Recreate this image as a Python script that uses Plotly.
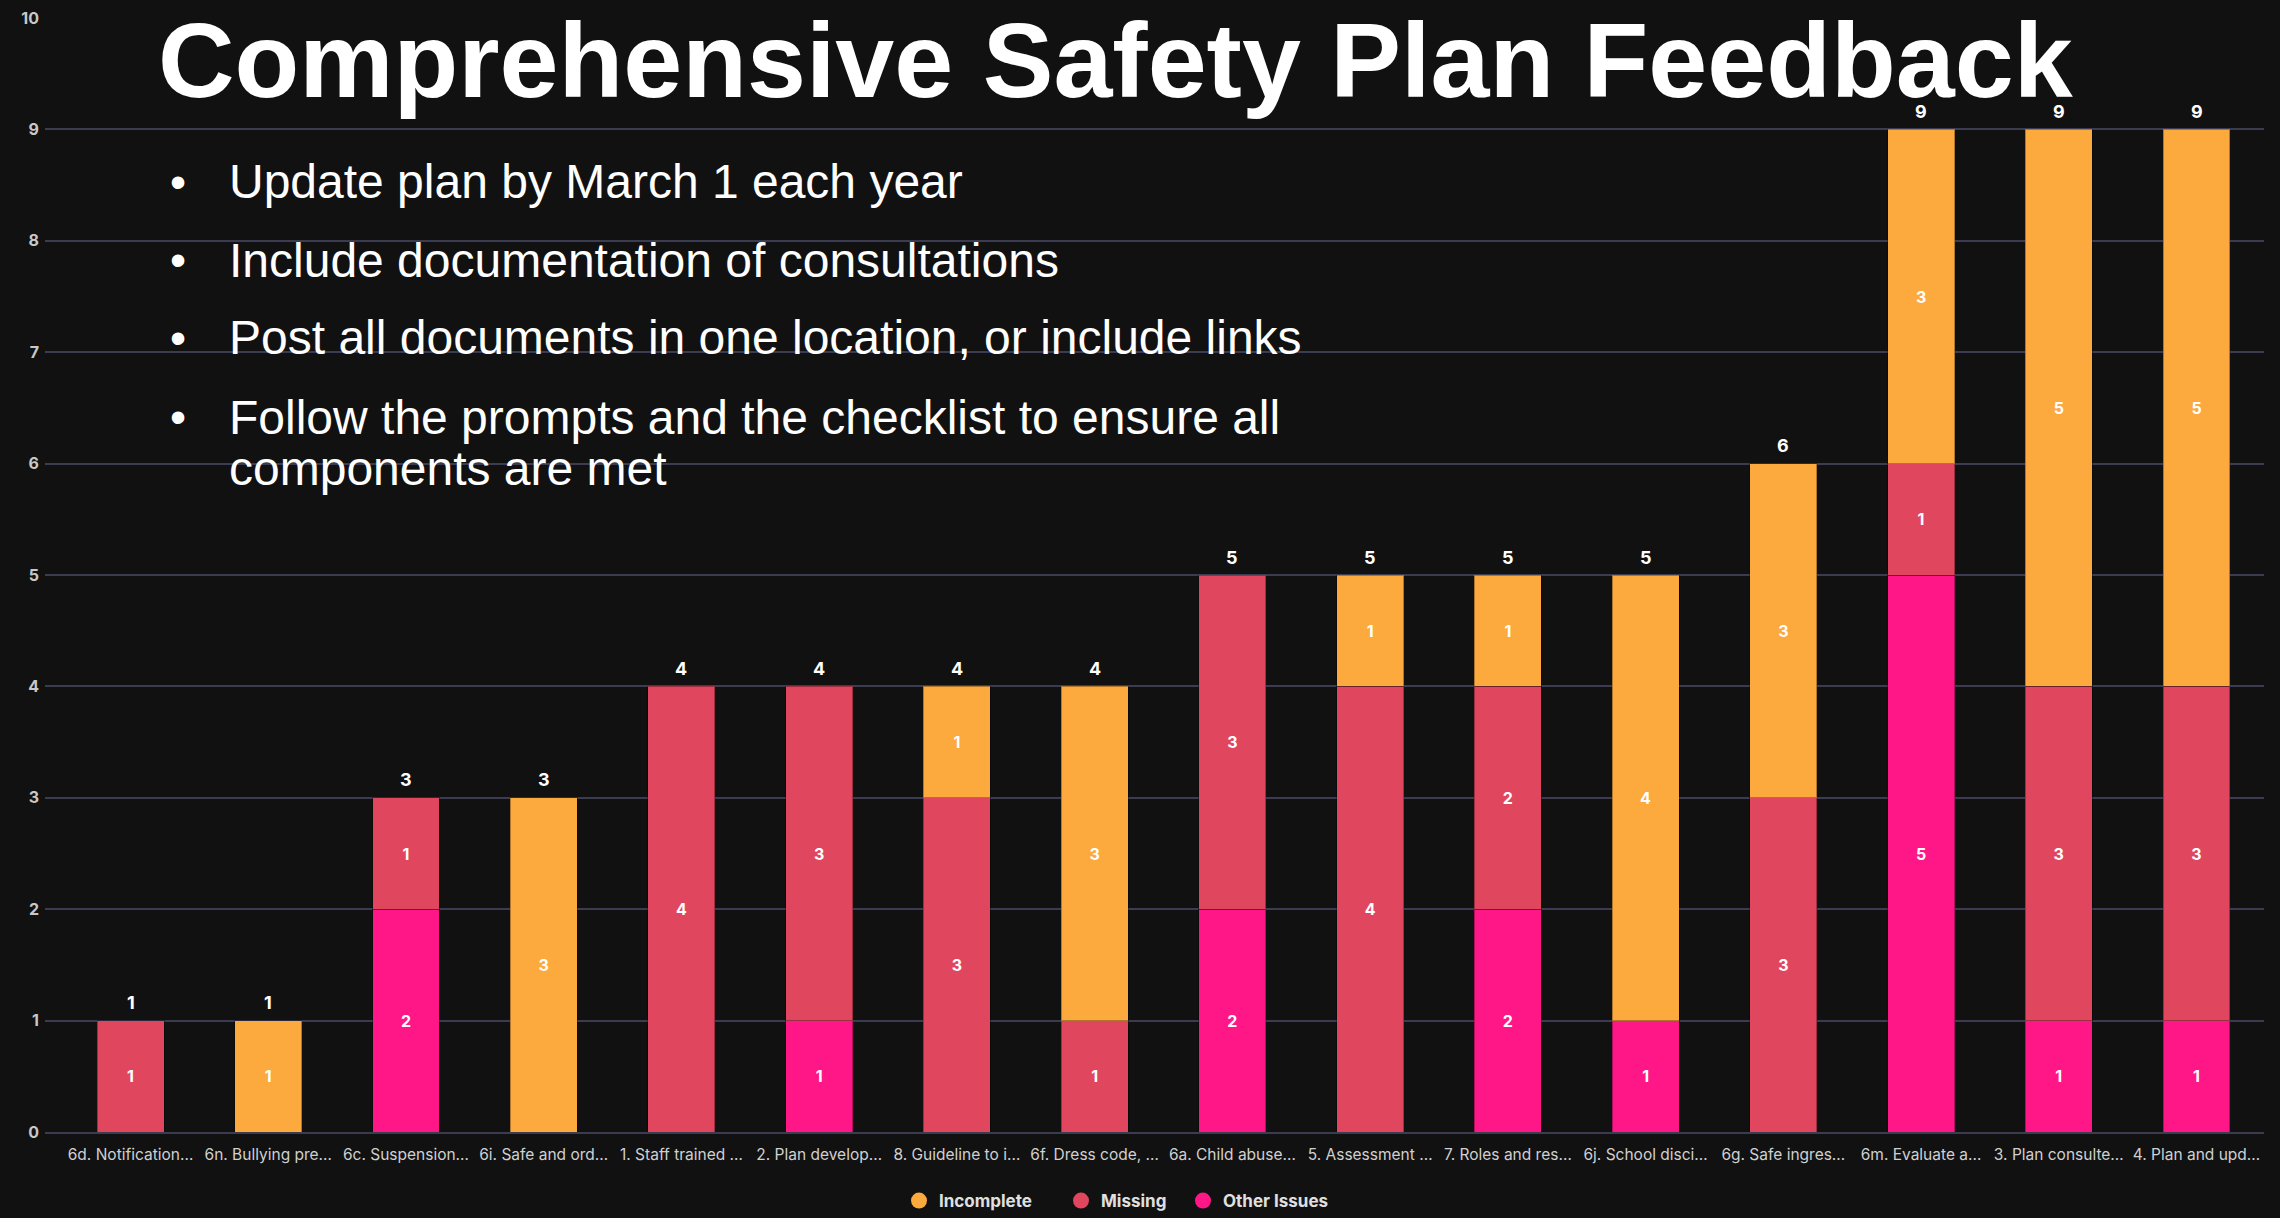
import plotly.graph_objects as go

categories = ["6d. Notification…", "6n. Bullying pre…", "6c. Suspension…", "6i. Safe and ord…",
              "1. Staff trained …", "2. Plan develop…", "8. Guideline to i…", "6f. Dress code, …",
              "6a. Child abuse…", "5. Assessment …", "7. Roles and res…", "6j. School disci…",
              "6g. Safe ingres…", "6m. Evaluate a…", "3. Plan consulte…", "4. Plan and upd…"]
other_issues = [0, 0, 2, 0, 0, 1, 0, 0, 2, 0, 2, 1, 0, 5, 1, 1]
missing      = [1, 0, 1, 0, 4, 3, 3, 1, 3, 4, 2, 0, 3, 1, 3, 3]
incomplete   = [0, 1, 0, 3, 0, 0, 1, 3, 0, 1, 1, 4, 3, 3, 5, 5]

title_text = "Comprehensive Safety Plan Feedback"
bullets = ["Update plan by March 1 each year",
           "Include documentation of consultations",
           "Post all documents in one location, or include links",
           "Follow the prompts and the checklist to ensure all",
           "components are met"]
bullet_marks = [True, True, True, True, False]

COL_INC = "#FCA93E"
COL_MIS = "#E0465E"
COL_OTH = "#FF1788"
BG = "#111111"
GRID = "#3b3b52"

W, H = 2280, 1218
ML, MR, MT, MB = 45, 16, 18, 86
PW = W - ML - MR
PH = H - MT - MB

def px_x(p):
    return (p - ML) / PW

def px_y(p):
    return (H - MB - p) / PH

fig = go.Figure()
series = [("Other Issues", other_issues, COL_OTH),
          ("Missing", missing, COL_MIS),
          ("Incomplete", incomplete, COL_INC)]
for name, vals, col in series:
    fig.add_trace(go.Bar(
        x=categories, y=[v if v else None for v in vals], name=name,
        marker=dict(color=col, line=dict(color="rgba(0,0,0,0.3)", width=1)),
        text=[str(v) if v else "" for v in vals],
        textposition="inside", insidetextanchor="middle", textangle=0,
        textfont=dict(family="Inter", size=16, color="white", weight="bold"),
        showlegend=False, hoverinfo="skip"))

legend_items = [("Incomplete", COL_INC, "legend", 920),
                ("Missing", COL_MIS, "legend2", 1082),
                ("Other Issues", COL_OTH, "legend3", 1204)]
for name, col, lg, _ in legend_items:
    fig.add_trace(go.Scatter(x=[None], y=[None], mode="markers", name=name, legend=lg,
                             marker=dict(symbol="circle", size=20, color=col)))

totals = [a + b + c for a, b, c in zip(other_issues, missing, incomplete)]
annotations = []
for cat, t in zip(categories, totals):
    annotations.append(dict(x=cat, y=t, xref="x", yref="y", text=str(t), showarrow=False,
                            yanchor="middle", yshift=18,
                            font=dict(family="Inter", size=18, color="white", weight="bold")))

# title
annotations.append(dict(x=px_x(1115.5), y=px_y(60), xref="paper", yref="paper", text=f"<b>{title_text}</b>",
                        showarrow=False, xanchor="center", yanchor="middle",
                        font=dict(family="Liberation Sans", size=106, color="white")))

mids = [182, 260, 338, 417, 468]
for txt, mk, m in zip(bullets, bullet_marks, mids):
    if mk:
        annotations.append(dict(x=px_x(178), y=px_y(m), xref="paper", yref="paper", text="•",
                                showarrow=False, xanchor="center", yanchor="middle",
                                font=dict(family="Liberation Sans", size=46, color="white")))
    annotations.append(dict(x=px_x(227), y=px_y(m), xref="paper", yref="paper", text=txt,
                            showarrow=False, xanchor="left", yanchor="middle",
                            font=dict(family="Liberation Sans", size=48, color="white")))

legend_font = dict(family="Inter", size=17, color="#e0e0e0", weight="bold")
legends = {}
for _, _, lg, cx in legend_items:
    legends[lg] = dict(orientation="h", x=px_x(cx - 21), y=px_y(1201), xanchor="left", yanchor="middle",
                       bgcolor="rgba(0,0,0,0)", font=legend_font)

fig.update_layout(
    width=W, height=H,
    margin=dict(l=ML, r=MR, t=MT, b=MB, autoexpand=False),
    paper_bgcolor=BG, plot_bgcolor=BG,
    barmode="stack", bargap=0.514,
    annotations=annotations,
    showlegend=True,
    xaxis=dict(type="category", range=[-0.621, 15.49], showgrid=False, zeroline=False,
               showline=True, linecolor=GRID, linewidth=1.5, automargin=False,
               tickfont=dict(family="Inter", size=15.5, color="#d0d0d0"),
               ticklabelstandoff=8, tickangle=0),
    yaxis=dict(range=[0, 10], dtick=1, showgrid=True, gridcolor=GRID, gridwidth=1.5,
               zeroline=False, showline=False, automargin=False,
               tickfont=dict(family="Inter", size=16, color="#c8c8c8", weight="bold"),
               ticklabelstandoff=5),
    **legends,
)

fig.write_html("out.html")
